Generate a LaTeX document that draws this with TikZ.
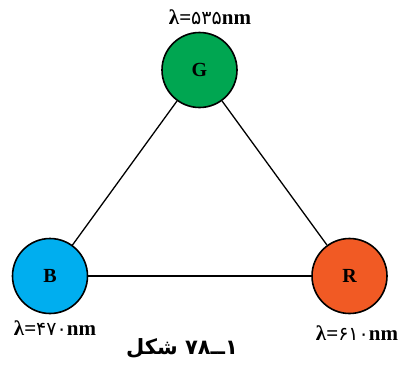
\documentclass[tikz,border=0pt]{standalone}
\usepackage{fontspec}
\setmainfont{Liberation Serif}
\newfontfamily\arabicfont[Script=Arabic]{DejaVu Sans}
\newfontfamily\digfont{DejaVu Sans}
\definecolor{gcol}{RGB}{0,166,81}
\definecolor{bcol}{RGB}{0,174,239}
\definecolor{rcol}{RGB}{241,90,36}
\newcommand{\pd}[1]{{\digfont\mdseries\fontsize{19}{19}\selectfont #1}}
\begin{document}
\begin{tikzpicture}[x=1pt,y=-1pt,
  ball/.style={circle, draw=black, line width=1.6pt, minimum size=75pt, inner sep=0pt,
    font=\fontsize{20}{20}\selectfont\bfseries},
  link/.style={line width=1.3pt},
  lab/.style={inner sep=0pt, font=\fontsize{21}{21}\selectfont\bfseries}]
\useasboundingbox (0,0) rectangle (404,365);
\node[ball, fill=gcol] (G) at (199.5,70) {G};
\node[ball, fill=bcol] (B) at (50,276) {B};
\node[ball, fill=rcol] (R) at (349.5,276) {R};
\draw[link] (G) -- (B);
\draw[link] (G) -- (R);
\draw[link] (B) -- (R);
\node[lab] (lg) at (210,17) {λ=\pd{۵۳۵}nm};
\node[lab] (lb) at (55,328) {λ=\pd{۴۷۰}nm};
\node[lab] (lr) at (357,333) {λ=\pd{۶۱۰}nm};
\node[inner sep=0pt, font=\arabicfont\bfseries\fontsize{21}{21}\selectfont] (cap) at (182,348)
  {\hbox{شکل}\ \hbox{۷۸}\hbox{ــ}\hbox{۱}};
\end{tikzpicture}
\end{document}
